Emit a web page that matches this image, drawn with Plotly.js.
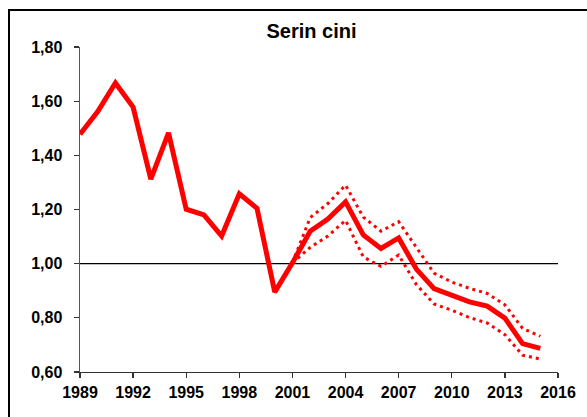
<!DOCTYPE html>
<html>
<head>
<meta charset="utf-8">
<script src="https://cdn.plot.ly/plotly-3.0.1.min.js"></script>
<style>
html,body{margin:0;padding:0;background:#fff;overflow:hidden;}
#frame{position:absolute;left:8px;top:9px;width:600px;height:430px;border:2px solid #000;box-sizing:border-box;}
#chart{position:absolute;left:0;top:0;width:587px;height:417px;}
</style>
</head>
<body>
<div id="frame"></div>
<div id="chart"></div>
<script>
// Data
const years = [1989,1990,1991,1992,1993,1994,1995,1996,1997,1998,1999,2000,2001,2002,2003,2004,2005,2006,2007,2008,2009,2010,2011,2012,2013,2014,2015];
const index = [1.478,1.562,1.667,1.578,1.312,1.483,1.201,1.180,1.102,1.258,1.204,0.895,1.003,1.120,1.165,1.228,1.106,1.056,1.095,0.980,0.908,0.885,0.859,0.843,0.799,0.705,0.687];
const ciYears = [2001,2002,2003,2004,2005,2006,2007,2008,2009,2010,2011,2012,2013,2014,2015];
const upperCI = [1.003,1.170,1.222,1.290,1.172,1.120,1.155,1.060,0.965,0.932,0.909,0.890,0.848,0.761,0.732];
const lowerCI = [1.003,1.060,1.102,1.160,1.025,0.990,1.032,0.923,0.851,0.828,0.801,0.781,0.738,0.662,0.648];
const refYears = [1989,2016];
const refLevel = [1.00,1.00];
const xTicks = [1989,1992,1995,1998,2001,2004,2007,2010,2013,2016];
const yTicks = [0.6,0.8,1.0,1.2,1.4,1.6,1.8];

const fontFam = 'Liberation Sans, Arial, sans-serif';

const traces = [
  {x: refYears, y: refLevel, mode:'lines', line:{color:'#000', width:1.3}, hoverinfo:'skip'},
  {x: ciYears, y: upperCI, mode:'lines', line:{color:'#ff0000', width:3, dash:'3px,4px'}, hoverinfo:'skip'},
  {x: ciYears, y: lowerCI, mode:'lines', line:{color:'#ff0000', width:3, dash:'3px,4px'}, hoverinfo:'skip'},
  {x: years, y: index, mode:'lines', line:{color:'#ff0000', width:5}, hoverinfo:'skip'}
];

const layout = {
  width:587, height:417,
  margin:{l:80, r:29, t:47, b:45, pad:0},
  paper_bgcolor:'rgba(0,0,0,0)', plot_bgcolor:'rgba(0,0,0,0)',
  showlegend:false,
  separators:', ',
  title:{text:'Serin cini', x:311.5/587, xanchor:'center', xref:'container', y:1-31/417, yref:'container', yanchor:'middle',
         font:{family:fontFam, size:20, color:'#000', weight:'bold'}},
  xaxis:{range:[1989,2016], tickvals:xTicks, ticktext:xTicks.map(String), ticks:'outside', ticklen:5, tickwidth:1.3,
         tickcolor:'#333', showline:true, linecolor:'#333', linewidth:1.3, showgrid:false, zeroline:false,
         tickfont:{family:fontFam, size:16, color:'#000', weight:'bold'}},
  yaxis:{range:[0.6,1.8], tickvals:yTicks, tickformat:'.2f', ticks:'outside', ticklen:5, tickwidth:1.3,
         tickcolor:'#333', showline:true, linecolor:'#555', linewidth:1.5, showgrid:false, zeroline:false,
         ticklabelstandoff:8,
         tickfont:{family:fontFam, size:16, color:'#000', weight:'bold'}}
};

Plotly.newPlot('chart', traces, layout, {staticPlot:true, displayModeBar:false});
</script>
</body>
</html>
